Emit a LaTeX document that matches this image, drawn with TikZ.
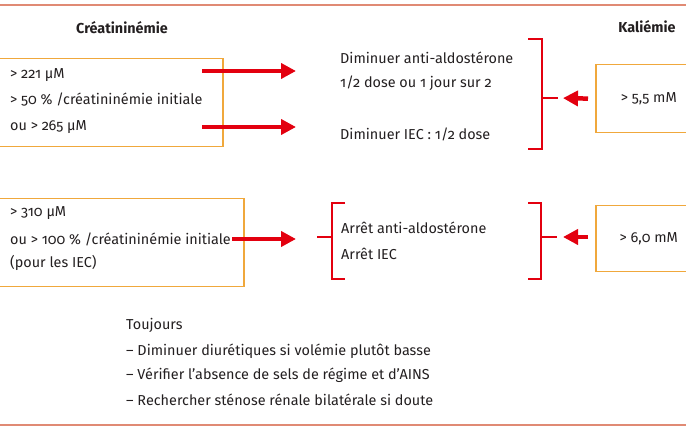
\documentclass[tikz,border=0pt]{standalone}
\usepackage{fontspec}
\setmainfont[Numbers=OldStyle]{Fira Sans}
\usetikzlibrary{arrows.meta}
\definecolor{rulecol}{HTML}{E08A74}
\definecolor{framecol}{HTML}{F0A83C}
\definecolor{signal}{HTML}{E3000F}
\definecolor{ink}{HTML}{231F20}
\tikzset{
  txt/.style={anchor=west, inner sep=0pt, text=ink},
  head/.style={inner sep=0pt, text=ink, font=\fontsize{14.4}{16}\selectfont\bfseries},
  frame/.style={draw=framecol, line width=1.5pt, anchor=north west, inner sep=0pt, text=ink},
  bracket/.style={draw=signal, line width=1.3pt},
  fat/.style={draw=signal, line width=4.5pt, -{Triangle[length=15pt,width=15pt]}}
}
\begin{document}
\begin{tikzpicture}[x=1pt, y=-1pt, font=\fontsize{14.4}{16}\selectfont]
  \useasboundingbox (0,0) rectangle (686,430);
  \clip (0,0) rectangle (686,430);
  \draw[rulecol, line width=2pt] (0,5) -- (686,5);
  \draw[rulecol, line width=2pt] (0,425) -- (686,425);
  % headers
  \node[head] (crea) at (122,28) {Créatininémie};
  \node[head] (kal) at (647,27) {Kaliémie};
  % first row
  \node[frame, minimum width=232pt, minimum height=88pt] (c1) at (-10,58) {};
  \node[txt] (c1a) at (10,75) {> 221 µM};
  \node[txt] (c1b) at (10,100) {> 50 \% /créatininémie initiale};
  \node[txt] (c1c) at (10,127) {ou > 265 µM};
  \node[txt] (m1a) at (340,58) {Diminuer anti-aldostérone};
  \node[txt] (m1b) at (340,83) {1/2 dose ou 1 jour sur 2};
  \node[txt] (m1c) at (340,134) {Diminuer IEC : 1/2 dose};
  \node[frame, minimum width=106pt, minimum height=68pt] (k1) at (595,64) {> 5,5 mM};
  % second row
  \node[frame, minimum width=253pt, minimum height=88pt] (c2) at (-10,198) {};
  \node[txt] (c2a) at (10,213) {> 310 µM};
  \node[txt] (c2b) at (10,239) {ou > 100 \% /créatininémie initiale};
  \node[txt] (c2c) at (10,263) {(pour les IEC)};
  \node[txt] (m2a) at (341,228) {Arrêt anti-aldostérone};
  \node[txt] (m2b) at (341,254) {Arrêt IEC};
  \node[frame, minimum width=106pt, minimum height=66pt] (k2) at (595,205) {> 6,0 mM};
  % always
  \node[txt] (t0) at (126,325) {Toujours};
  \node[txt] (t1) at (126,351) {– Diminuer diurétiques si volémie plutôt basse};
  \node[txt] (t2) at (126,375) {– Vérifier l'absence de sels de régime et d'AINS};
  \node[txt] (t3) at (126,400) {– Rechercher sténose rénale bilatérale si doute};
  % brackets
  \draw[bracket] (528,39) -- (542,39) -- (542,149) -- (528,149);
  \draw[bracket] (542,98) -- (558,98) coordinate (r1);
  \draw[bracket] (345,203) -- (332,203) -- (332,279) -- (345,279);
  \draw[bracket] (332,237) -- (317,237) coordinate (l2);
  \draw[bracket] (528,203) -- (541,203) -- (541,279) -- (528,279);
  \draw[bracket] (541,237) -- (557,237) coordinate (r2);
  \coordinate (s1) at (202,71);
  \coordinate (e1) at (296,71);
  \coordinate (s2) at (202,127);
  \coordinate (e2) at (296,127);
  \coordinate (s3) at (232,239);
  \coordinate (e3) at (296,239);
  \begin{scope}[fat]
    \draw (s1) to (e1);
    \draw (s2) to (e2);
    \draw (s3) to (e3);
    \draw[shorten <=7pt, shorten >=5pt] (k1.west) to (r1);
    \draw[shorten <=7pt, shorten >=6pt] (k2.west |- r2) to (r2);
  \end{scope}
\end{tikzpicture}
\end{document}
